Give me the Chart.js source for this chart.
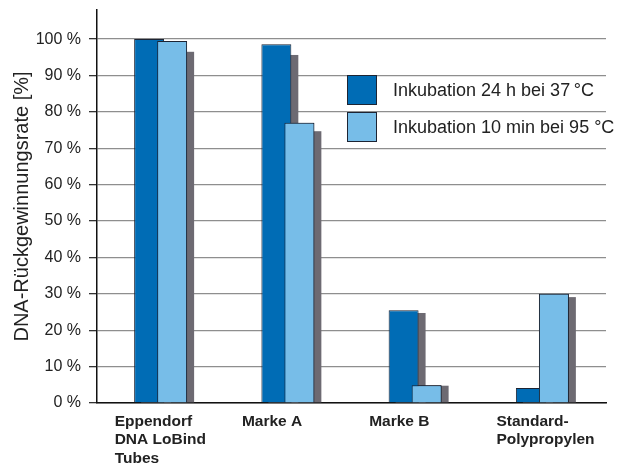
<!DOCTYPE html>
<html>
<head>
<meta charset="utf-8">
<script src="https://cdn.jsdelivr.net/npm/chart.js@4"></script>
<style>
  body { margin: 0; background: #fff; }
  #wrap { width: 628px; height: 466px; }
</style>
</head>
<body>
<div id="wrap"><canvas id="chart" width="628" height="466"></canvas></div>
<script>
// ===========================
// DATA
// ===========================

const categories = [
    ["Eppendorf", "DNA LoBind", "Tubes"],
    "Marke A",
    "Marke B",
    ["Standard-", "Polypropylen"]
];

const seriesNames = [
    "Inkubation 24 h bei 37\u2009°C",
    "Inkubation 10 min bei 95 °C"
];

const incubation24h = [100, 98.6, 25.5, 4.1];
const incubation10min = [99.5, 77, 4.9, 30];

const yTicks = [0, 10, 20, 30, 40, 50, 60, 70, 80, 90, 100];

// ===========================
// PLUGINS
// ===========================

// grey depth shadow behind every bar
const barShadow = {
    id: "barShadow",
    beforeDatasetsDraw(chart){
        const ctx = chart.ctx;
        const y = chart.scales.y;
        ctx.save();
        ctx.fillStyle = "#6d6a72";
        chart.getSortedVisibleDatasetMetas().forEach(meta => {
            meta.data.forEach((bar, i) => {
                const v = chart.data.datasets[meta.index].data[i];
                const top = y.getPixelForValue(v * 0.97);
                ctx.fillRect(bar.x - bar.width / 2 + 7, top, bar.width, bar.base - top);
            });
        });
        ctx.restore();
    },
    // right-hand (light) bars overlap the dark ones
    afterDatasetsDraw(chart){
        chart.getDatasetMeta(1).controller.draw();
    }
};

// legend inside the plot
const boxLegend = {
    id: "boxLegend",
    afterDatasetsDraw(chart){
        const ctx = chart.ctx;
        const area = chart.chartArea;
        ctx.save();
        chart.data.datasets.forEach((ds, i) => {
            const x = area.left + 250;
            const y = area.top + 65 + i * 37;
            ctx.fillStyle = ds.backgroundColor;
            ctx.fillRect(x, y, 30, 30);
            ctx.strokeStyle = "#1d2433";
            ctx.lineWidth = 1;
            ctx.strokeRect(x + 0.5, y + 0.5, 29, 29);
            ctx.fillStyle = "#222";
            ctx.font = "18px 'Liberation Sans', Arial, sans-serif";
            ctx.textBaseline = "middle";
            ctx.fillText(ds.label, x + 46, y + 16);
        });
        ctx.restore();
    }
};

// ===========================
// CHART
// ===========================

new Chart(document.getElementById("chart"),{

    type:"bar",

    data:{

        labels:categories,

        datasets:[
            {
                label:seriesNames[0],
                data:incubation24h,
                backgroundColor:"#006cb5",
                borderColor:"#1d2433",
                borderWidth:1
            },
            {
                label:seriesNames[1],
                data:incubation10min,
                backgroundColor:"#77bde8",
                borderColor:"#1d2433",
                borderWidth:1
            }
        ]

    },

    options:{

        responsive:false,
        animation:false,
        categoryPercentage:0.362,
        barPercentage:1.3,

        layout:{
            padding:{top:10, right:22, bottom:0, left:0}
        },

        plugins:{
            legend:{display:false},
            tooltip:{enabled:false}
        },

        scales:{

            x:{
                grid:{display:false, drawTicks:false},
                border:{color:"#111", width:1.5},
                ticks:{
                    color:"#222",
                    align:"start",
                    labelOffset:-46,
                    padding:9,
                    maxRotation:0,
                    autoSkip:false,
                    font:{family:"'Liberation Sans', Arial, sans-serif", size:15.5, weight:"bold", lineHeight:1.2}
                },
                afterFit(scale){
                    scale.height = 63;
                    scale.paddingLeft = 0;
                    scale.paddingRight = 0;
                }
            },

            y:{
                min:0,
                max:108,
                afterBuildTicks(scale){
                    scale.ticks = yTicks.map(v => ({value:v}));
                },
                grid:{color:"#8e8e8e", lineWidth:1.3, tickLength:8, tickColor:"#333"},
                border:{color:"#111", width:1.5},
                ticks:{
                    color:"#222",
                    padding:8,
                    font:{family:"'Liberation Sans', Arial, sans-serif", size:16},
                    callback:(v) => v + " %"
                },
                title:{
                    display:true,
                    text:"DNA-Rückgewinnungsrate [%]",
                    color:"#222",
                    padding:{top:10, bottom:0},
                    font:{family:"'Liberation Sans', Arial, sans-serif", size:20}
                },
                afterFit(scale){
                    scale.width = 97;
                    scale.paddingTop = 0;
                    scale.paddingBottom = 0;
                }
            }

        }

    },

    plugins:[barShadow, boxLegend]

});
</script>
</body>
</html>
